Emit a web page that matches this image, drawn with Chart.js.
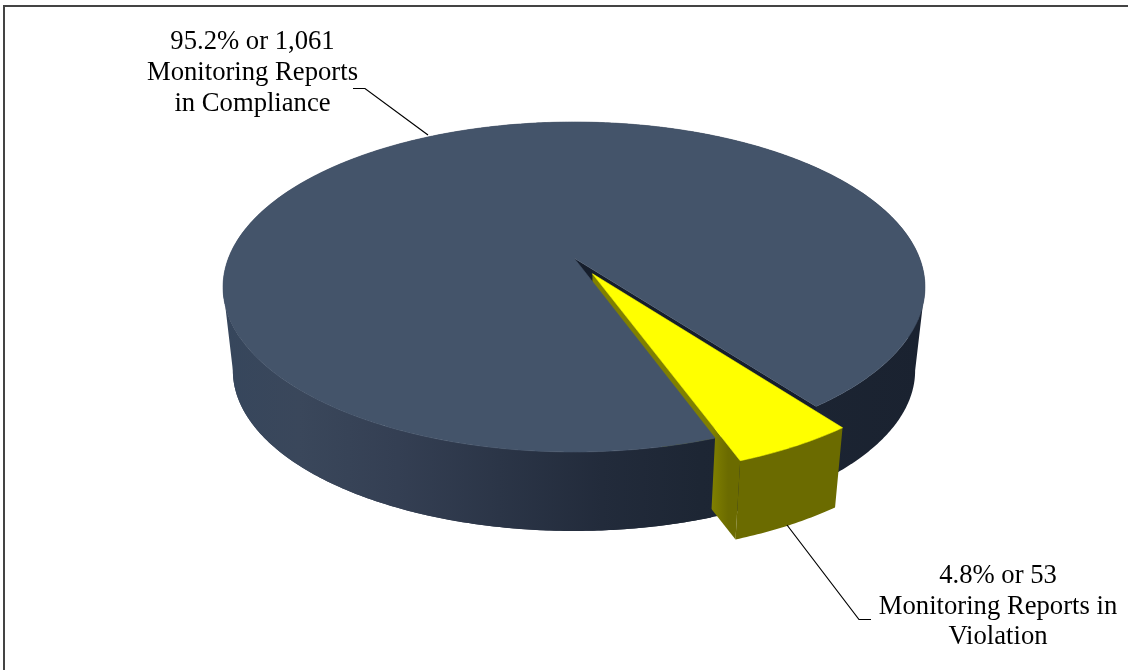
<!DOCTYPE html>
<html>
<head>
<meta charset="utf-8">
<style>html,body{margin:0;padding:0;background:#fff}canvas{display:block}</style>
<script src="https://cdn.jsdelivr.net/npm/chart.js@4"></script>
</head>
<body>
<canvas id="c" width="1128" height="670"></canvas>
<script>
// Monitoring report counts per compliance status
const categories = ['Monitoring Reports in Compliance', 'Monitoring Reports in Violation'];
const reportCounts = [1061, 53];
const topColors = ['#44546a', '#ffff00'];
const complianceLabel = ['95.2% or 1,061', 'Monitoring Reports', 'in Compliance'];
const violationLabel = ['4.8% or 53', 'Monitoring Reports in', 'Violation'];

// Perspective of the disc: unit circle -> screen, with a thickness level
const view = { ax: 574, ay: 258, k: 345.5, m: 159.9, p: -0.1757, drop: 84.4, shrink: 0.972 };

function project(X, Y, level) {
  const w = 1 + view.p * Y;
  let dx = view.k * X / w, dy = view.m * Y / w;
  if (level) { dx *= view.shrink; dy = dy * view.shrink + view.drop; }
  return [view.ax + dx, view.ay + dy];
}

function ringPoint(theta, level, ox, oy) {
  return project(Math.cos(theta) + ox, Math.sin(theta) + oy, level);
}

function tracePath(ctx, pts) {
  ctx.beginPath();
  pts.forEach((q, i) => i ? ctx.lineTo(q[0], q[1]) : ctx.moveTo(q[0], q[1]));
  ctx.closePath();
}

function arcPoints(a, b, level, ox, oy) {
  const n = Math.max(2, Math.ceil(Math.abs(b - a) / 0.01));
  const out = [];
  for (let i = 0; i <= n; i++) out.push(ringPoint(a + (b - a) * i / n, level, ox, oy));
  return out;
}

function paintRim(ctx, a, b, ox, oy, fill) {
  const pts = arcPoints(a, b, 0, ox, oy).concat(arcPoints(b, a, 1, ox, oy));
  tracePath(ctx, pts);
  ctx.fillStyle = fill;
  ctx.fill();
}

function paintRadial(ctx, theta, ox, oy, fill) {
  tracePath(ctx, [
    project(ox, oy, 0), ringPoint(theta, 0, ox, oy),
    ringPoint(theta, 1, ox, oy), project(ox, oy, 1)
  ]);
  ctx.fillStyle = fill;
  ctx.fill();
}

function paintTop(ctx, a, b, ox, oy, fill) {
  const pts = [project(ox, oy, 0)].concat(arcPoints(a, b, 0, ox, oy));
  tracePath(ctx, pts);
  ctx.fillStyle = fill;
  ctx.fill();
  ctx.strokeStyle = fill;
  ctx.lineWidth = 0.6;
  ctx.stroke();
}

function hGradient(ctx, x0, x1, stops) {
  const g = ctx.createLinearGradient(x0, 0, x1, 0);
  stops.forEach(s => g.addColorStop(s[0], s[1]));
  return g;
}

// Replaces the flat arcs with an extruded, tilted disc built from the arc elements
const tiltedDisc = {
  id: 'tiltedDisc',
  beforeDatasetDraw(chart, args) {
    const ctx = chart.ctx;
    const [main, slice] = chart.getDatasetMeta(args.index).data;
    const wall = hGradient(ctx, 222, 925, [
      [0, '#36465c'], [0.11, '#3a475b'], [0.25, '#343f53'], [0.395, '#2b3547'],
      [0.54, '#222b3b'], [0.68, '#1d2634'], [1, '#1a2230']
    ]);
    const olive = '#6b6b00';
    const face = hGradient(ctx, 712, 728, [[0, '#808000'], [1, '#6b6b00']]);

    const sA = slice.startAngle, sB = slice.endAngle;
    const mid = (sA + sB) / 2;
    const shift = slice.options.offset / slice.outerRadius;
    const ox = Math.cos(mid) * shift, oy = Math.sin(mid) * shift;
    // Ring angle at which the disc's side silhouette falls
    const edge = Math.asin(-view.p);

    ctx.save();
    // Far side of the notch, seen behind the pulled-out slice
    paintRim(ctx, edge, sA, 0, 0, wall);
    paintRadial(ctx, sA, 0, 0, '#161e2c');

    // Pulled-out slice: cut face, outer wall, top
    paintRadial(ctx, sB, ox, oy, face);
    paintRim(ctx, sA, sB, ox, oy, olive);
    paintTop(ctx, sA, sB, ox, oy, slice.options.backgroundColor);

    // Main body in front of the slice's cut face
    paintRim(ctx, main.startAngle, Math.PI - edge, 0, 0, wall);
    paintTop(ctx, main.startAngle, main.endAngle, 0, 0, main.options.backgroundColor);
    ctx.restore();
    return false;
  },
  afterDraw(chart) {
    const ctx = chart.ctx;
    ctx.save();
    // Frame: left and top edges only
    ctx.fillStyle = '#444444';
    ctx.fillRect(3, 5, 2, 665);
    ctx.fillRect(3, 5, 1125, 2);

    // Leader lines
    ctx.strokeStyle = '#000000';
    ctx.lineWidth = 1.2;
    ctx.beginPath();
    ctx.moveTo(353, 88.5); ctx.lineTo(365, 88.5); ctx.lineTo(428, 135);
    ctx.moveTo(787, 525); ctx.lineTo(859, 619.5); ctx.lineTo(871, 619.5);
    ctx.stroke();

    // Callout text
    ctx.fillStyle = '#000000';
    ctx.font = '26.67px "Liberation Serif"';
    ctx.textAlign = 'center';
    ctx.textBaseline = 'alphabetic';
    complianceLabel.forEach((t, i) => ctx.fillText(t, 252.5, 49 + i * 31));
    violationLabel.forEach((t, i) => ctx.fillText(t, 998, 583 + i * 30.5));
    ctx.restore();
  }
};

new Chart(document.getElementById('c'), {
  type: 'pie',
  plugins: [tiltedDisc],
  data: {
    labels: categories,
    datasets: [{
      data: reportCounts,
      backgroundColor: topColors,
      borderWidth: 0,
      offset: [0, 33]
    }]
  },
  options: {
    responsive: false,
    animation: false,
    rotation: 160.07,
    radius: 300,
    plugins: { legend: { display: false }, tooltip: { enabled: false } }
  }
});
</script>
</body>
</html>
